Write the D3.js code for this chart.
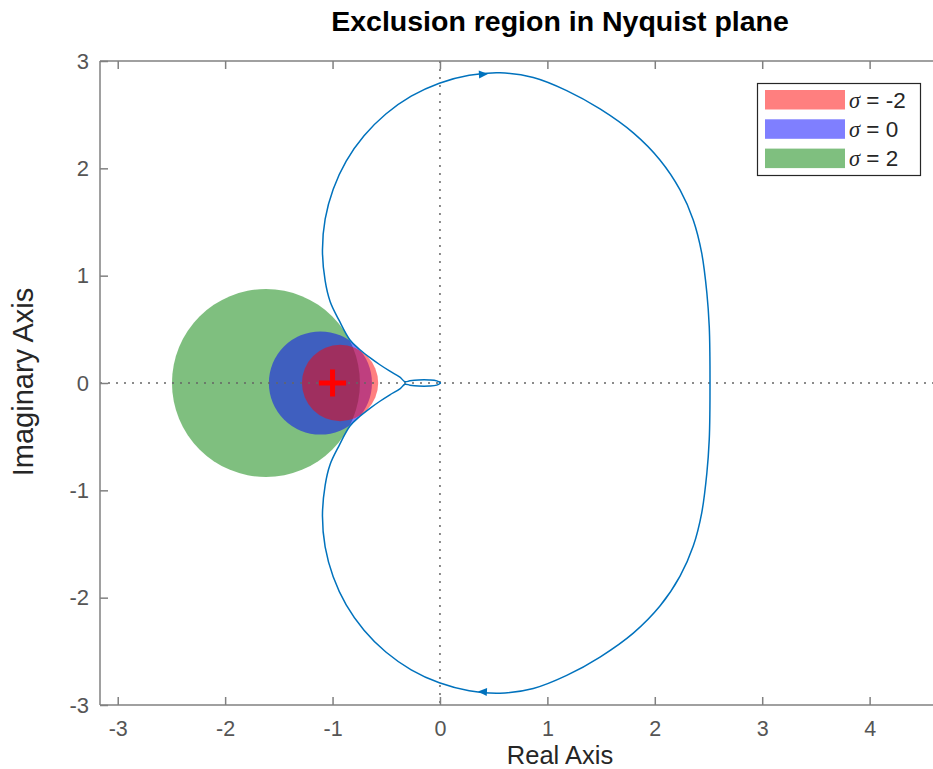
<!DOCTYPE html>
<html>
<head>
<meta charset="utf-8">
<script src="https://cdn.jsdelivr.net/npm/d3@7"></script>
<style>
  html, body { margin: 0; padding: 0; background: #fff; overflow: hidden; }
  svg { display: block; font-family: "Liberation Sans", Arial, sans-serif; }
</style>
</head>
<body>
<svg id="chart" width="933" height="769"></svg>
<script>
// ---- data ----
// positive-frequency branch of the Nyquist curve (lower half), from w=0 towards w->inf
const nyqRe = [2.514, 2.513, 2.507, 2.485, 2.437, 2.358, 2.235, 2.048, 1.800, 1.490, 1.180, 0.869, 0.559, 0.272,
               -0.006, -0.268, -0.504, -0.707, -0.873, -0.994, -1.069, -1.094, -1.069, -1.022, -0.940, -0.838,
               -0.745, -0.652, -0.559, -0.466, -0.373, -0.326, -0.280, -0.200, -0.100, -0.030, 0.008];
const nyqIm = [0.000, -0.250, -0.525, -0.836, -1.209, -1.519, -1.799, -2.078, -2.330, -2.553, -2.724, -2.846, -2.890, -2.867,
               -2.793, -2.672, -2.506, -2.303, -2.067, -1.805, -1.527, -1.240, -0.953, -0.757, -0.585, -0.401,
               -0.310, -0.236, -0.170, -0.110, -0.055, -0.012, -0.020, -0.028, -0.028, -0.020, 0.000];
const sigmaValues = [-2, 0, 2];
const circleCenterRe = [-0.93, -1.113, -1.62];
const circleRadius = [0.355, 0.48, 0.875];
const circleColors = ["#ff0000", "#0000ff", "#008000"];
const criticalPoint = [-1, 0];
const arrowPoint = [0.40, 2.876];
const xTicks = [-3, -2, -1, 0, 1, 2, 3, 4];
const yTicks = [-3, -2, -1, 0, 1, 2, 3];

// ---- layout ----
const plotL = 100, plotT = 61, plotB = 705, plotR = 1020;
const svg = d3.select("#chart");

const x = d3.scaleLinear().domain([-3.165, 5.4]).range([plotL, plotR]);
const y = d3.scaleLinear().domain([-3, 3]).range([plotB, plotT]);

svg.append("defs").append("clipPath").attr("id", "clip")
  .append("rect").attr("x", plotL).attr("y", plotT).attr("width", plotR - plotL).attr("height", plotB - plotT);

const plot = svg.append("g").attr("clip-path", "url(#clip)");

// circles: drawn green, blue, red (red on top)
[2, 1, 0].forEach(i => {
  plot.append("circle")
    .attr("cx", x(circleCenterRe[i]))
    .attr("cy", y(0))
    .attr("r", x(circleRadius[i]) - x(0))
    .attr("fill", circleColors[i])
    .attr("fill-opacity", 0.5);
});

// dotted zero lines
plot.append("line").attr("x1", plotL).attr("x2", plotR).attr("y1", y(0)).attr("y2", y(0))
  .attr("stroke", "#666").attr("stroke-width", 1.5).attr("stroke-dasharray", "2,6");
plot.append("line").attr("x1", x(0)).attr("x2", x(0)).attr("y1", plotT).attr("y2", plotB)
  .attr("stroke", "#666").attr("stroke-width", 1.5).attr("stroke-dasharray", "2,6");

// nyquist curve: mirrored branch (upper) + positive branch (lower)
const upper = nyqRe.map((r, i) => [r, -nyqIm[i]]).reverse();
const lower = nyqRe.map((r, i) => [r, nyqIm[i]]);
const line = d3.line().x(d => x(d[0])).y(d => y(d[1])).curve(d3.curveCatmullRom.alpha(0.5));
const blue = "#0072bd";
plot.append("path").attr("d", line(upper)).attr("fill", "none").attr("stroke", blue).attr("stroke-width", 1.5);
plot.append("path").attr("d", line(lower)).attr("fill", "none").attr("stroke", blue).attr("stroke-width", 1.5);

// direction arrows
function arrow(px, py, angleDeg) {
  plot.append("path")
    .attr("d", "M5,0 L-4,-4 L-4,4 Z")
    .attr("transform", `translate(${x(px)},${y(py)}) rotate(${angleDeg})`)
    .attr("fill", blue);
}
arrow(arrowPoint[0], arrowPoint[1], -3);
arrow(arrowPoint[0], -arrowPoint[1], 183);

// critical point marker
const cx0 = x(criticalPoint[0]), cy0 = y(criticalPoint[1]);
plot.append("path").attr("d", `M${cx0 - 13.5},${cy0} H${cx0 + 13.5} M${cx0},${cy0 - 13.5} V${cy0 + 13.5}`)
  .attr("stroke", "#ff0000").attr("stroke-width", 5).attr("fill", "none");

// axes box
const axisColor = "#808080";
const box = svg.append("g");
box.append("line").attr("x1", plotL).attr("x2", plotR).attr("y1", plotT).attr("y2", plotT).attr("stroke", axisColor).attr("stroke-width", 1.5);
box.append("line").attr("x1", plotL).attr("x2", plotR).attr("y1", plotB).attr("y2", plotB).attr("stroke", axisColor).attr("stroke-width", 1.5);
box.append("line").attr("x1", plotL).attr("x2", plotL).attr("y1", plotT).attr("y2", plotB).attr("stroke", axisColor).attr("stroke-width", 1.5);

const fmt = d => d < 0 ? "-" + Math.abs(d) : String(d);

// x axis (bottom) with inward ticks
const gx = svg.append("g").attr("transform", `translate(0,${plotB})`)
  .call(d3.axisBottom(x).tickValues(xTicks).tickSizeInner(-8).tickSizeOuter(0).tickPadding(16).tickFormat(fmt));
gx.select(".domain").remove();
gx.selectAll(".tick line").attr("stroke", axisColor).attr("stroke-width", 1.5);
gx.selectAll(".tick text").attr("fill", "#555").style("font-size", "21.5px");

// top ticks
const gxt = svg.append("g").attr("transform", `translate(0,${plotT})`)
  .call(d3.axisTop(x).tickValues(xTicks).tickSizeInner(-8).tickSizeOuter(0).tickFormat(""));
gxt.select(".domain").remove();
gxt.selectAll(".tick line").attr("stroke", axisColor).attr("stroke-width", 1.5);

// y axis (left)
const gy = svg.append("g").attr("transform", `translate(${plotL},0)`)
  .call(d3.axisLeft(y).tickValues(yTicks).tickSizeInner(-8).tickSizeOuter(0).tickPadding(11).tickFormat(fmt));
gy.select(".domain").remove();
gy.selectAll(".tick line").attr("stroke", axisColor).attr("stroke-width", 1.5);
gy.selectAll(".tick text").attr("fill", "#555").style("font-size", "22px");

// labels
svg.append("text").attr("x", (plotL + plotR) / 2).attr("y", 764).attr("text-anchor", "middle")
  .attr("fill", "#262626").style("font-size", "25.5px").text("Real Axis");
svg.append("text").attr("transform", `translate(33,${(plotT + plotB) / 2 - 1}) rotate(-90)`).attr("text-anchor", "middle")
  .attr("fill", "#262626").style("font-size", "29px").text("Imaginary Axis");
svg.append("text").attr("x", (plotL + plotR) / 2).attr("y", 31).attr("text-anchor", "middle")
  .attr("fill", "#000").style("font-size", "28.5px").style("font-weight", "bold").text("Exclusion region in Nyquist plane");

// legend
const lg = svg.append("g");
lg.append("rect").attr("x", 757.5).attr("y", 83.5).attr("width", 163).attr("height", 92)
  .attr("fill", "#fff").attr("stroke", "#262626").attr("stroke-width", 1.2);
sigmaValues.forEach((s, i) => {
  const yy = 90 + i * 29.3;
  lg.append("rect").attr("x", 765).attr("y", yy).attr("width", 80).attr("height", 19.5)
    .attr("fill", circleColors[i]).attr("fill-opacity", 0.5);
  const t = lg.append("text").attr("x", 849).attr("y", yy + 17.5).attr("fill", "#262626").style("font-size", "22.5px");
  t.append("tspan").style("font-style", "italic").style("font-family", "'Liberation Serif', serif").text("σ");
  t.append("tspan").text(" = " + s);
});
</script>
</body>
</html>
